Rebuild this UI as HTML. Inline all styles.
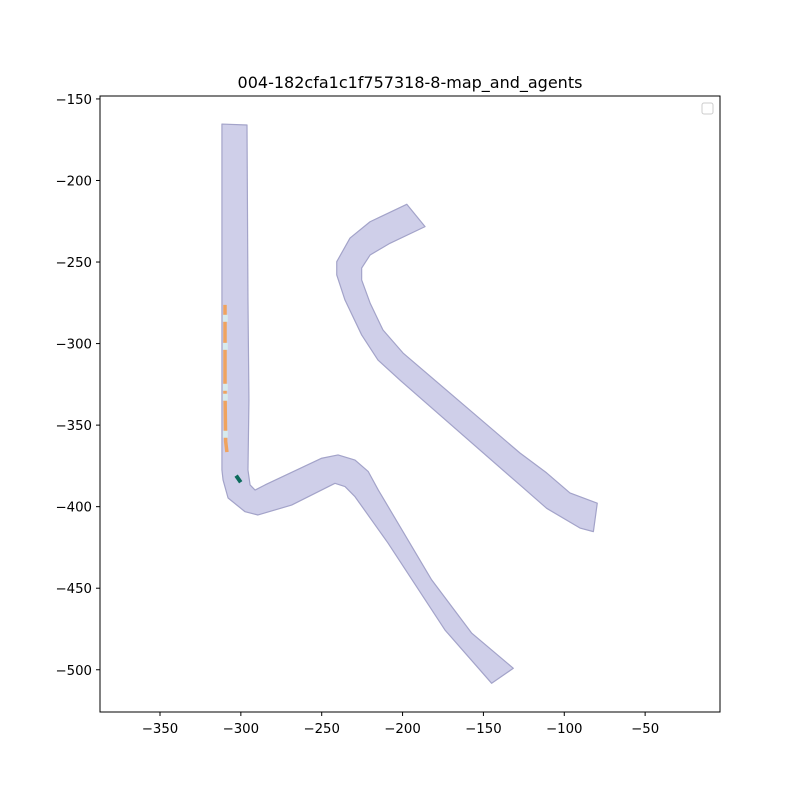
<!DOCTYPE html>
<html><head><meta charset="utf-8"><style>
body{margin:0;background:#fff}
svg text{font-family:"DejaVu Sans","Liberation Sans",sans-serif;fill:#000}
</style></head><body>
<svg id="chart" width="800" height="800" viewBox="0 0 800 800">
<rect width="800" height="800" fill="#fff"/>
<text x="410" y="88" font-size="16" text-anchor="middle">004-182cfa1c1f757318-8-map_and_agents</text>
<g id="plot"></g>
<rect x="100" y="96" width="620" height="616" fill="none" stroke="#000" stroke-width="1"/>
<rect x="702" y="103" width="11" height="11" rx="2" fill="#fff" stroke="#ccc"/>
</svg>
<script>
const xTicks=[-350,-300,-250,-200,-150,-100,-50];
const yTicks=[-150,-200,-250,-300,-350,-400,-450,-500];
const road1X=[-311.7,-296.2,-295.6,-295.0,-295.6,-294.3,-291.2,-285.1,-250.0,-239.9,-229.4,-221.2,-215.0,-182.0,-157.2,-131.5,-144.9,-173.8,-209.0,-229.4,-235.6,-241.8,-268.6,-289.4,-297.4,-307.9,-311.0,-311.7];
const road1Y=[-165.4,-166.0,-273.3,-334.6,-377.5,-386.7,-389.8,-386.7,-370.3,-368.3,-371.4,-378.5,-389.8,-444.9,-477.6,-499.1,-508.3,-475.6,-422.3,-393.9,-387.7,-385.7,-399.0,-405.1,-403.1,-394.7,-383.6,-377.5];
const road2X=[-197.4,-220.1,-232.5,-240.7,-240.7,-235.6,-225.3,-215.2,-200.5,-127.4,-110.9,-90.3,-82.0,-79.6,-96.5,-110.9,-127.4,-199.7,-212.1,-220.1,-225.3,-225.3,-220.1,-207.8,-186.1];
const road2Y=[-214.6,-225.3,-235.3,-249.8,-257.9,-273.3,-294.7,-310.1,-323.4,-386.7,-401.0,-413.1,-415.3,-397.9,-391.6,-379.3,-367.1,-305.8,-291.7,-275.1,-261.0,-253.7,-245.7,-238.5,-228.3];
const trajX=[-309.8,-309.8,-309.4,-308.6];
const trajY=[-276.3,-330.0,-360.0,-366.5];
const markX=[-309.6,-309.6,-309.6,-309.6,-309.6];
const markY=[-284.5,-301.7,-326.8,-332.9,-355.6];
const egoX=-301.5, egoY=-383.0;

const X0=-387.1,X1=-3.7,Y0=-525.9,Y1=-148.2;
const sx=v=>100+(v-X0)/(X1-X0)*620;
const sy=v=>96+(Y1-v)/(Y1-Y0)*616;
const NS="http://www.w3.org/2000/svg";
const plot=document.getElementById('plot');
const svg=document.getElementById('chart');
function mk(t,a,p){const e=document.createElementNS(NS,t);for(const k in a)e.setAttribute(k,a[k]);(p||plot).appendChild(e);return e;}
function poly(xs,ys,name){
  const e=mk('polygon',{points:xs.map((x,i)=>sx(x)+','+sy(ys[i])).join(' '),fill:'#cfcfe9',stroke:'#a3a3c9','stroke-width':1.2,'stroke-linejoin':'round'});
  
  
}
poly(road1X,road1Y,'road-left');
poly(road2X,road2Y,'road-right');
const tr=mk('polyline',{points:trajX.map((x,i)=>sx(x)+','+sy(trajY[i])).join(' '),fill:'none',stroke:'#f0a35e','stroke-width':3.5});


markX.forEach((x,i)=>{
  const r=mk('rect',{x:sx(x)-2.5,y:sy(markY[i])-3.5,width:5,height:7,fill:'#d6eaee'});
  
  
});
const ego=mk('rect',{x:sx(egoX)-2,y:sy(egoY)-4,width:4,height:8,fill:'#0c6b5c',transform:`rotate(-35 ${sx(egoX)} ${sy(egoY)})`});


xTicks.forEach(v=>{
  const x=sx(v);
  const l=mk('line',{x1:x,x2:x,y1:712,y2:716,stroke:'#000'},svg);
  
  
  const t=mk('text',{x:x,y:733,'font-size':13.3,'text-anchor':'middle'},svg);t.textContent='\u2212'+Math.abs(v);
  
  
});
yTicks.forEach(v=>{
  const y=sy(v);
  const l=mk('line',{x1:96,x2:100,y1:y,y2:y,stroke:'#000'},svg);
  
  
  const t=mk('text',{x:92,y:y+5,'font-size':13.3,'text-anchor':'end'},svg);t.textContent='\u2212'+Math.abs(v);
  
  
});
</script>
</body></html>
